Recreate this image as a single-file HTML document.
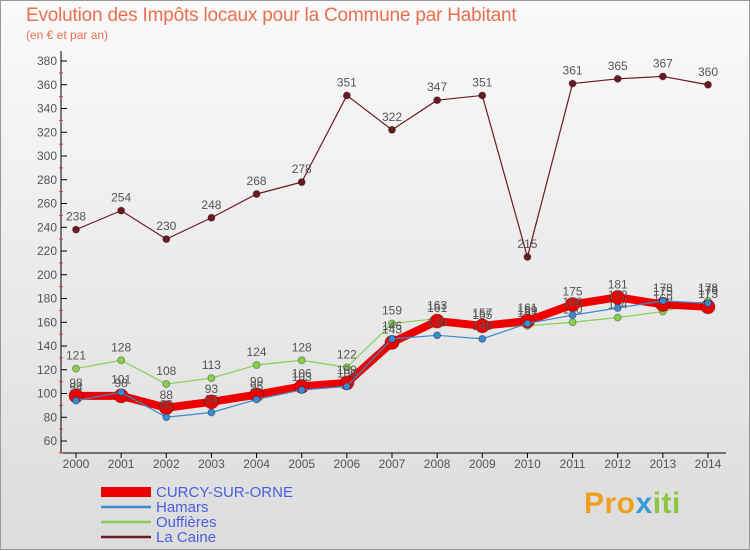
<!DOCTYPE html>
<html><head><meta charset="utf-8"><style>
body{margin:0;width:750px;height:550px;overflow:hidden;font-family:"Liberation Sans",sans-serif}
#wrap{position:relative;width:748px;height:548px;border:1px solid #999;background:linear-gradient(180deg,#fafafa 0%,#dcdcdc 100%)}
.t{position:absolute;color:#e8704e}
</style></head><body>
<div id="wrap">
<div class="t" style="left:25px;top:4px;font-size:19px;letter-spacing:-0.2px">Evolution des Impôts locaux pour la Commune par Habitant</div>
<div class="t" style="left:25px;top:27px;font-size:12px">(en € et par an)</div>
<svg id="c" width="750" height="550" style="position:absolute;left:0;top:0"></svg>
<div style="position:absolute;left:583px;top:486px;font-size:30px;font-weight:bold;letter-spacing:0.5px"><span style="color:#f0a020">Pro</span><span style="color:#3a9ad9">x</span><span style="color:#8cc63f">iti</span></div>
</div>
<script>
const years=[2000,2001,2002,2003,2004,2005,2006,2007,2008,2009,2010,2011,2012,2013,2014];
const curcy=[98,98,88,93,99,106,109,143,161,157,161,175,181,175,173];
const hamars=[94,101,80,84,95,103,106,146,149,146,159,166,172,178,176];
const ouff=[121,128,108,113,124,128,122,159,163,155,157,160,164,169,178];
const caine=[238,254,230,248,268,278,351,322,347,351,215,361,365,367,360];
const ticks=[60,80,100,120,140,160,180,200,220,240,260,280,300,320,340,360,380];
const NS="http://www.w3.org/2000/svg",svg=document.getElementById('c');
const X=i=>75+i*(707-75)/(years.length-1);
const Y=v=>440-(v-60)*380/320;
function mk(t,a,p){const e=document.createElementNS(NS,t);for(const k in a)e.setAttribute(k,a[k]);(p||svg).appendChild(e);return e;}
let ax=mk('line',{x1:60,y1:50,x2:60,y2:452,stroke:'#000'});


let bx=mk('line',{x1:60,y1:452,x2:725,y2:452,stroke:'#000'});


ticks.forEach(v=>{
 mk('line',{x1:60,y1:Y(v),x2:66,y2:Y(v),stroke:'#000'});
 mk('line',{x1:58,y1:Y(v)+11.9,x2:62,y2:Y(v)+11.9,stroke:'#e33'});
 let t=mk('text',{x:56,y:Y(v)+4,'text-anchor':'end','font-size':12,fill:'#555'});t.textContent=v;
 
 
});
years.forEach((y,i)=>{
 mk('line',{x1:X(i),y1:452,x2:X(i),y2:457,stroke:'#000'});
 let t=mk('text',{x:X(i),y:467,'text-anchor':'middle','font-size':12,fill:'#555'});t.textContent=y;
 
 
});
function series(d,color,w,r,name){
 const g=mk('g',{});
 
 
 mk('polyline',{points:d.map((v,i)=>X(i)+','+Y(v)).join(' '),fill:'none',stroke:color,'stroke-width':w,'stroke-linejoin':'round'},g);
 d.forEach((v,i)=>{
  mk('circle',{cx:X(i),cy:Y(v),r:r,fill:color,stroke:'rgba(0,0,0,0.3)'},g);
  let t=mk('text',{x:X(i),y:Y(v)-9,'text-anchor':'middle','font-size':12,fill:'#555'},g);t.textContent=v;
 });
}
series(caine,'#6b1a22',1.2,3.5,'series-la-caine');
series(ouff,'#88d050',1.2,3.5,'series-ouffieres');
series(curcy,'#ee0000',8,7,'series-curcy');
series(hamars,'#3a8ad0',1.2,3.5,'series-hamars');
const leg=[['CURCY-SUR-ORNE','#ee0000',10],['Hamars','#3a8ad0',2.5],['Ouffières','#88d050',2.5],['La Caine','#6b1a22',2.5]];
leg.forEach((l,i)=>{
 const g=mk('g',{});
 
 
 const y=491+i*15;
 mk('line',{x1:100,y1:y,x2:150,y2:y,stroke:l[1],'stroke-width':l[2]},g);
 let t=mk('text',{x:155,y:y+5,'font-size':15,fill:'#4a5fe0'},g);t.textContent=l[0];
});
</script>
</body></html>
